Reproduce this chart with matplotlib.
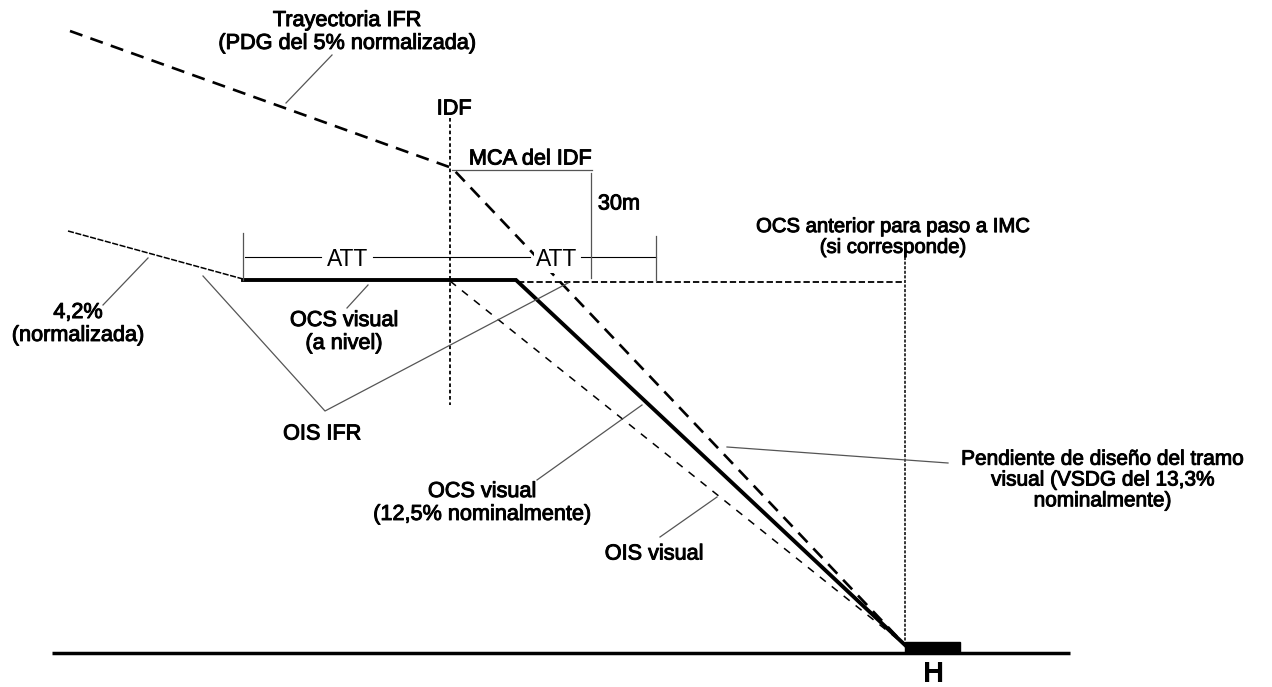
import matplotlib
matplotlib.use('Agg')
import matplotlib.pyplot as plt
import matplotlib.patheffects as pe

plt.rcParams['font.family'] = ['Liberation Sans', 'DejaVu Sans']

# lines as x / y lists in pixels
ground_x = [52, 1070]
ground_y = [653, 653]
ifr_x = [70, 452, 905]
ifr_y = [31, 168, 645]
ois_ifr_x = [68, 243]
ois_ifr_y = [231, 279]
ocs_x = [243, 516, 905]
ocs_y = [280, 280, 645]
ois_vis_x = [450, 905]
ois_vis_y = [281, 645]
ocs_prev_x = [518, 905]
ocs_prev_y = [282, 282]
idf_x = [450, 450]
idf_y = [118, 405]
thr_x = [905, 905]
thr_y = [257, 645]

# dimension lines (black)
dim_x = [[245, 321], [373, 530], [581, 656]]
dim_y = [[257, 257], [257, 257], [257, 257]]

# leaders and ticks (grey)
lead_x = [
    [286, 332], [452, 592], [591, 591], [243, 243], [656, 656],
    [148, 103], [203, 325, 568], [368, 347], [642, 537], [717, 660], [727, 948],
]
lead_y = [
    [103, 55], [170, 170], [173, 278], [233, 280], [236, 281],
    [258, 305], [276, 411, 283], [285, 308], [405, 480], [497, 537], [447, 463],
]

labels = [
    (347, 32, 'Trayectoria IFR\n(PDG del 5% normalizada)', 15.6),
    (454, 109, 'IDF', 15.6),
    (530, 159, 'MCA del IDF', 15.6),
    (619, 204, '30m', 15.6),
    (893, 237, 'OCS anterior para paso a IMC\n(si corresponde)', 14.6),
    (78, 324, '4,2%\n(normalizada)', 15.6),
    (344, 332, 'OCS visual\n(a nivel)', 15.6),
    (322, 434, 'OIS IFR', 15.6),
    (482, 503, 'OCS visual\n(12,5% nominalmente)', 15.6),
    (654, 554, 'OIS visual', 15.6),
    (1103, 480, 'Pendiente de diseño del tramo\nvisual (VSDG del 13,3%\nnominalmente)', 15.0),
]
att_x = [348, 557]

fig = plt.figure(figsize=(12.72, 6.87), dpi=100)
ax = fig.add_axes([0, 0, 1, 1])
ax.set_xlim(0, 1272)
ax.set_ylim(687, 0)
ax.axis('off')

ax.plot(ground_x, ground_y, color='black', lw=2.5, solid_capstyle='butt')
ax.plot(ifr_x, ifr_y, color='black', lw=1.9, dashes=(5, 3.2))
ax.plot(ois_ifr_x, ois_ifr_y, color='black', lw=1.1, dashes=(4, 1))
ax.plot(ocs_x, ocs_y, color='black', lw=2.8, solid_joinstyle='miter')
ax.plot(ois_vis_x, ois_vis_y, color='black', lw=1.1, dashes=(5, 5))
ax.plot(ocs_prev_x, ocs_prev_y, color='black', lw=1.3, dashes=(3.5, 1.6))
ax.plot(idf_x, idf_y, color='black', lw=1.3, dashes=(2, 1.5))
ax.plot(thr_x, thr_y, color='black', lw=1.1, dashes=(2, 1))

for xs, ys in zip(dim_x, dim_y):
    ax.plot(xs, ys, color='black', lw=0.8)
for xs, ys in zip(lead_x, lead_y):
    ax.plot(xs, ys, color='#555555', lw=0.9)

# H box
ax.add_patch(plt.Rectangle((905, 642), 55, 11, color='black'))
ax.text(934, 674, 'H', fontsize=21, fontweight='bold', ha='center', va='center')

for x, y, s, size in labels:
    t = ax.text(x, y, s, fontsize=size, ha='center', va='center', linespacing=1.12,
                multialignment='center', color='black')
    t.set_path_effects([pe.withStroke(linewidth=0.7, foreground='black')])
# the ATT labels sit on a white patch that breaks the dashed line behind them
for x in att_x:
    ax.text(x, 259, 'ATT', fontsize=16.5, ha='center', va='center', color='black',
            bbox=dict(facecolor='white', edgecolor='none', pad=1.5), zorder=5)

fig.savefig('out.png', dpi=100)
